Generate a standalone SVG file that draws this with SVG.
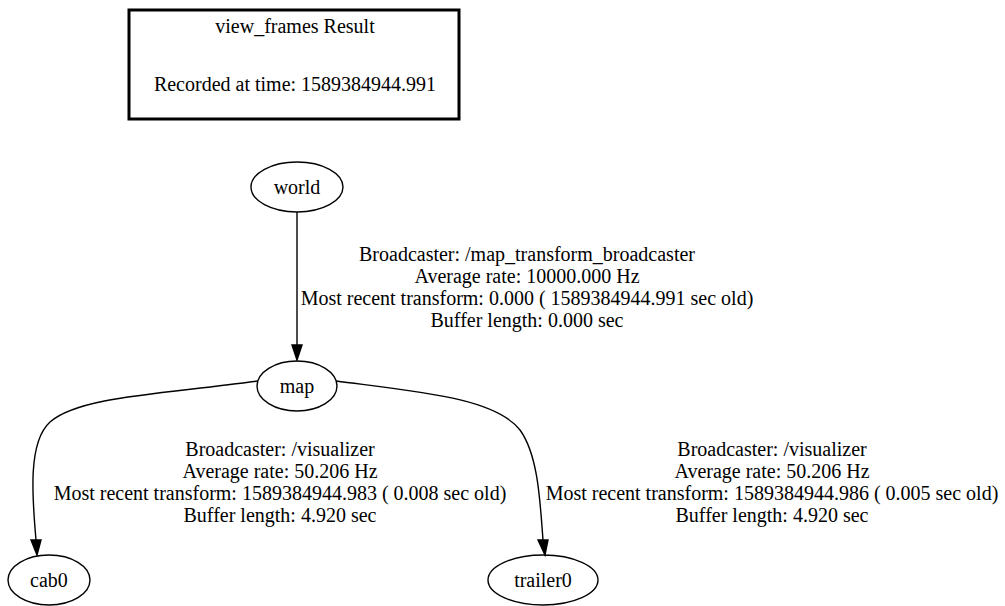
<svg xmlns="http://www.w3.org/2000/svg" width="1005" height="606" viewBox="0 0 1005 606">
  <style>
    text { font-family: "Liberation Serif", "Times New Roman", serif; font-size: 20px; fill: #000; text-anchor: middle; }
    .node ellipse { fill: none; stroke: #000; stroke-width: 1.4; }
    .edge path { fill: none; stroke: #000; stroke-width: 1.4; }
    .edge polygon { fill: #000; stroke: #000; stroke-width: 1.4; }
  </style>
  <rect width="1005" height="606" fill="#fff"/>

  <!-- legend box -->
  <g id="legend">
    <rect x="129" y="10" width="330" height="109" fill="none" stroke="#000" stroke-width="3"/>
    <text x="295" y="33">view_frames Result</text>
    <text x="295" y="91">Recorded at time: 1589384944.991</text>
  </g>

  <!-- transforms between frames -->
  <g id="edges" class="edge">
    <g id="edge-world-map">
      <path d="M297,212 L297,345"/>
      <polygon points="292,345 302,345 297,360"/>
      <text x="527" y="261">Broadcaster: /map_transform_broadcaster</text>
      <text x="527" y="283">Average rate: 10000.000 Hz</text>
      <text x="527" y="305">Most recent transform: 0.000 ( 1589384944.991 sec old)</text>
      <text x="527" y="327">Buffer length: 0.000 sec</text>
    </g>
    <g id="edge-map-cab0">
      <path d="M258,381 C165,394 80,396 50,422 C28,442 32,495 36,540"/>
      <polygon points="31,540 41,540 37,555"/>
      <text x="280" y="456">Broadcaster: /visualizer</text>
      <text x="280" y="478">Average rate: 50.206 Hz</text>
      <text x="280" y="500">Most recent transform: 1589384944.983 ( 0.008 sec old)</text>
      <text x="280" y="522">Buffer length: 4.920 sec</text>
    </g>
    <g id="edge-map-trailer0">
      <path d="M336,381 C420,392 495,398 520,430 C538,455 540,500 543,540"/>
      <polygon points="538,540 548,540 545,555"/>
      <text x="772" y="456">Broadcaster: /visualizer</text>
      <text x="772" y="478">Average rate: 50.206 Hz</text>
      <text x="772" y="500">Most recent transform: 1589384944.986 ( 0.005 sec old)</text>
      <text x="772" y="522">Buffer length: 4.920 sec</text>
    </g>
  </g>

  <!-- frames -->
  <g id="world" class="node">
    <ellipse cx="297" cy="187" rx="46" ry="25"/>
    <text x="297" y="194">world</text>
  </g>
  <g id="map" class="node">
    <ellipse cx="297" cy="386" rx="40" ry="25"/>
    <text x="297" y="393">map</text>
  </g>
  <g id="cab0" class="node">
    <ellipse cx="49" cy="580" rx="41" ry="25"/>
    <text x="49" y="587">cab0</text>
  </g>
  <g id="trailer0" class="node">
    <ellipse cx="543" cy="580" rx="55" ry="25"/>
    <text x="543" y="587">trailer0</text>
  </g>
</svg>
